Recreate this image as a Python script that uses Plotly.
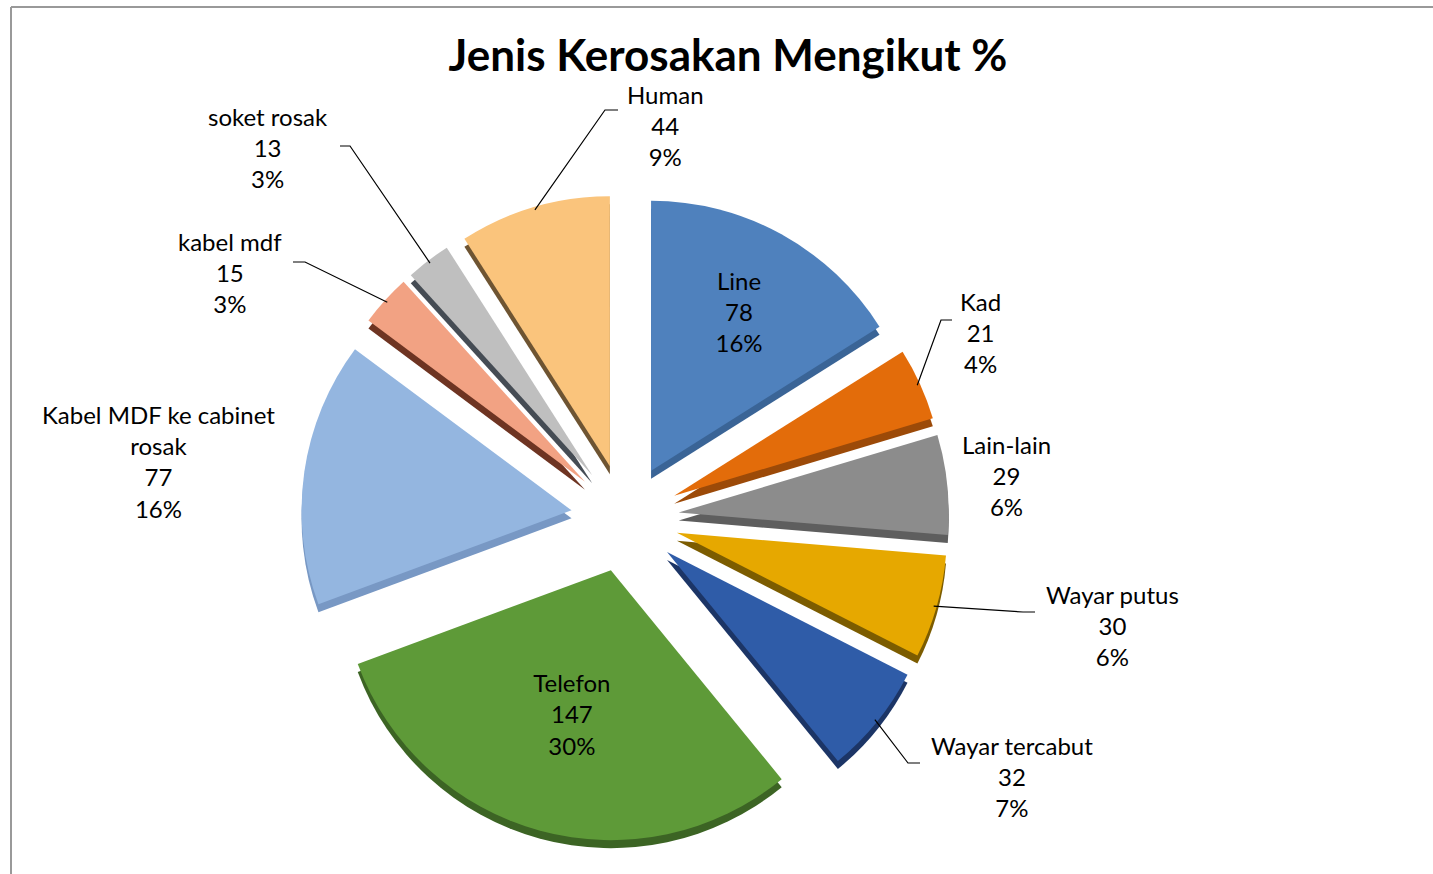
import math
import plotly.graph_objects as go

# ---- data ----
labels = ["Line", "Kad", "Lain-lain", "Wayar putus", "Wayar tercabut", "Telefon",
          "Kabel MDF ke cabinet rosak", "kabel mdf", "soket rosak", "Human"]
values = [78, 21, 29, 30, 32, 147, 77, 15, 13, 44]
colors = ["#4F81BD", "#E36C0A", "#8C8C8C", "#E6A800", "#2F5CA8", "#5E9A38",
          "#94B6E0", "#F2A283", "#BFBFBF", "#FAC47C"]
side_colors = ["#3A6496", "#9C4A08", "#5E5E5E", "#7C5C00", "#1C3566", "#3C6424",
               "#7898C4", "#6E3422", "#454C54", "#6E5432"]
title = "Jenis Kerosakan Mengikut %"

# ---- layout / styling ----
W, H = 1433, 874
FONT = "Lato"
pulls = [0.2] * len(values)
inside = [True, False, False, False, False, True, False, False, False, False]
dom_x = [0.2100, 0.6623]
dom_y = [0.0366, 0.7780]
depth_px = 8
# outside label placement (pixel centre of the text block) and leader stub
# (stub start x, stub end x, stub y) or None
label_place = {
    "Human": ((665, 125), (618, 605, 110)),
    "soket rosak": ((268, 147), (340, 350, 146)),
    "kabel mdf": ((230, 273), (293, 305, 262)),
    "Kad": ((980, 333), (952, 941, 320)),
    "Lain-lain": ((1006, 475), None),
    "Wayar putus": ((1112, 625), (1035, 1023, 612)),
    "Wayar tercabut": ((1012, 776), (920, 908, 763)),
    "Kabel MDF ke cabinet rosak": ((158, 461), None),
}
wrap = {"Kabel MDF ke cabinet rosak": "Kabel MDF ke cabinet<br>rosak"}

total = sum(values)
pcts = [round(v / total * 100) for v in values]

# 3-D "thickness": a darker copy of the pie drawn slightly lower, behind the top face
fig = go.Figure(go.Pie(
    labels=labels, values=values, sort=False, direction="clockwise", rotation=0,
    marker=dict(colors=side_colors, line=dict(width=0)),
    pull=pulls, textinfo="none", hoverinfo="skip",
    domain=dict(x=dom_x, y=[dom_y[0] - depth_px / H, dom_y[1] - depth_px / H]),
    showlegend=False,
))
fig.add_trace(go.Pie(
    labels=labels, values=values, sort=False, direction="clockwise", rotation=0,
    marker=dict(colors=colors, line=dict(width=0)),
    pull=pulls,
    texttemplate="%{label}<br>%{value}<br>%{percent:.0%}",
    textposition=["inside" if f else "none" for f in inside],
    textfont=dict(family=FONT, size=24, color="black"),
    insidetextorientation="horizontal",
    domain=dict(x=dom_x, y=dom_y),
    showlegend=False,
    hoverinfo="label+value+percent",
))

# pie geometry as plotly computes it (margins are zero)
avail = min(W * (dom_x[1] - dom_x[0]), H * (dom_y[1] - dom_y[0]))
r = avail / (2 * (1 + max(pulls)))
cx = W * (dom_x[0] + dom_x[1]) / 2
cy = H * (1 - (dom_y[0] + dom_y[1]) / 2)

def px(x):
    return x / W

def py(y):
    return 1 - y / H

annotations = []
shapes = []
cum = 0.0
for lab, v, p, pc, ins in zip(labels, values, pulls, pcts, inside):
    mid = (cum + v / 2) / total * 2 * math.pi
    cum += v
    if ins:
        continue
    (tx, ty), stub = label_place[lab]
    annotations.append(dict(
        x=px(tx), y=py(ty), xref="paper", yref="paper", xanchor="center", yanchor="middle",
        text=f"{wrap.get(lab, lab)}<br>{v}<br>{pc}%", showarrow=False, align="center",
        font=dict(family=FONT, size=24, color="black"),
    ))
    if stub:
        rr = r * (1 + p) - 3
        tipx = cx + rr * math.sin(mid)
        tipy = cy - rr * math.cos(mid)
        sx0, sx1, sy = stub
        shapes.append(dict(
            type="path", xref="paper", yref="paper",
            path=f"M {px(sx0)} {py(sy)} L {px(sx1)} {py(sy)} L {px(tipx)} {py(tipy)}",
            line=dict(color="black", width=1.2),
        ))

shapes += [
    dict(type="line", xref="paper", yref="paper", x0=px(11), x1=1, y0=py(7), y1=py(7),
         line=dict(color="#999999", width=2)),
    dict(type="line", xref="paper", yref="paper", x0=px(11), x1=px(11), y0=0, y1=py(7),
         line=dict(color="#999999", width=2)),
]

fig.update_layout(
    width=W, height=H,
    margin=dict(l=0, r=0, t=0, b=0),
    paper_bgcolor="white",
    title=dict(text=f"<b>{title}</b>", x=0.508, xanchor="center",
               y=py(56), yanchor="middle",
               font=dict(family=FONT, size=44, color="black")),
    annotations=annotations,
    shapes=shapes,
)

fig.write_html("out.html")
